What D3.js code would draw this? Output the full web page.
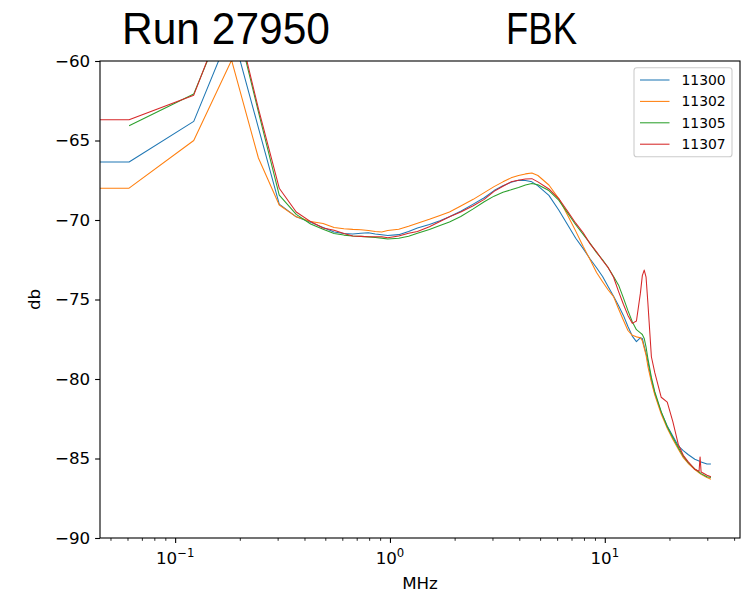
<!DOCTYPE html>
<html><head><meta charset="utf-8">
<script src="https://cdn.jsdelivr.net/npm/d3@7"></script>
<style>body{margin:0;background:#fff}svg{display:block}</style>
</head><body><script>
// ---- data ----
const binWidthMHz = 0.0610352;             // FFT bin width (MHz)
const bins = [0,1,2,3,4,5,6,7,8,9,10,11,12,13,14,15,16,18,20,22,25,28,31,35,40,45,50,
  55,60,65,70,75,80,90,100,110,120,130,140,150,160,170,180,190,200,210,220,230,240,
  245,250,255,260,270,280,300,320,340,360,380,400,430,450,455,460,490,511];
const seriesNames = ["11300","11302","11305","11307"];
const s11300 = [-66.35,-66.35,-63.8,-58.0,-64.2,-69.0,-69.8,-70.15,-70.47,-70.75,-70.85,-70.88,-70.83,-70.8,-70.88,-70.93,-70.98,
  -70.92,-70.72,-70.5,-70.28,-70.05,-69.8,-69.45,-69.0,-68.6,-68.15,
  -67.85,-67.63,-67.5,-67.52,-67.6,-67.85,-68.45,-69.37,
  -70.3,-71.15,-71.8,-72.45,-73.0,-73.55,-74.2,-74.8,-75.4,-76.0,-76.7,-77.3,-77.65,-77.4,
  -77.45,-77.95,-78.4,-78.9,-80.05,-80.9,
  -82.1,-82.95,-83.6,-84.2,-84.5,-84.75,
  -85.05,-85.15,-85.2,-85.22,-85.35,-85.35];
const s11302 = [-68.0,-68.0,-65.0,-59.95,-66.1,-69.06,-69.8,-70.1,-70.22,-70.47,-70.55,-70.59,-70.61,-70.66,-70.72,-70.75,-70.66,
  -70.58,-70.4,-70.2,-69.96,-69.72,-69.5,-69.12,-68.7,-68.28,-67.9,
  -67.6,-67.35,-67.2,-67.1,-67.05,-67.2,-67.8,-68.65,
  -69.7,-70.7,-71.67,-72.5,-73.3,-73.88,-74.4,-74.82,-75.6,-76.3,-76.95,-77.25,-77.35,-77.4,
  -77.6,-78.05,-78.5,-79.2,-80.2,-81.0,
  -82.2,-83.1,-83.8,-84.4,-84.95,-85.3,
  -85.7,-85.9,-85.95,-86.0,-86.2,-86.3];
const s11305 = [null,-64.07,-62.07,-56.3,-63.2,-68.43,-69.65,-70.25,-70.58,-70.85,-70.95,-71.01,-71.03,-71.06,-71.1,-71.14,-71.2,
  -71.15,-71.02,-70.83,-70.6,-70.35,-70.12,-69.78,-69.3,-68.85,-68.5,
  -68.25,-68.1,-67.95,-67.8,-67.7,-67.78,-68.15,-68.75,
  -69.55,-70.3,-70.9,-71.47,-72.05,-72.5,-73.0,-73.55,-74.1,-74.9,-75.7,-76.4,-76.9,-77.1,
  -77.2,-77.45,-78.0,-78.7,-79.9,-80.8,
  -82.05,-83.0,-83.7,-84.3,-84.85,-85.25,
  -85.65,-85.85,-85.9,-85.95,-86.15,-86.2];
const s11307 = [-63.7,-63.7,-62.15,-56.0,-63.0,-68.0,-69.5,-70.1,-70.5,-70.65,-70.85,-71.0,-71.03,-71.05,-71.05,-71.05,-71.12,
  -71.0,-70.83,-70.72,-70.42,-70.1,-69.8,-69.5,-69.1,-68.7,-68.2,
  -67.88,-67.6,-67.5,-67.42,-67.4,-67.6,-68.05,-68.65,
  -69.45,-70.2,-70.8,-71.5,-72.0,-72.55,-73.0,-73.6,-74.5,-75.3,-76.0,-76.5,-76.35,-74.6,
  -73.5,-73.15,-73.6,-75.2,-78.6,-79.6,
  -81.15,-81.45,-82.7,-84.1,-84.8,-85.2,
  -85.68,-85.8,-84.9,-85.85,-86.05,-86.15];
const seriesValues = [s11300, s11302, s11305, s11307];
const colors = ["#1f77b4","#ff7f0e","#2ca02c","#d62728"];
const xMajorTicks = [0.1, 1, 10];
const xMajorExp = ["\u22121", "0", "1"];
const xMinorTicks = [0.05,0.06,0.07,0.08,0.09,0.2,0.3,0.4,0.5,0.6,0.7,0.8,0.9,2,3,4,5,6,7,8,9,20,30,40];
const yTicks = [-90,-85,-80,-75,-70,-65,-60];
const xDomain = [0.04469, 42.6];
const yDomain = [-90, -60];

// ---- layout ----
const W = 748, H = 592;
const L = 100, R = 740, T = 61, B = 538;
const svg = d3.select("body").append("svg").attr("width", W).attr("height", H);
const x = d3.scaleLog().domain(xDomain).range([L, R]);
const y = d3.scaleLinear().domain(yDomain).range([B, T]);

svg.append("defs").append("clipPath").attr("id","clip")
  .append("rect").attr("x",L).attr("y",T).attr("width",R-L).attr("height",B-T);

// lines
const line = d3.line()
  .defined(d => d.v !== null)
  .x(d => d.f > 0 ? x(d.f) : x.range()[0])
  .y(d => y(d.v));
const gLines = svg.append("g").attr("clip-path","url(#clip)");
seriesValues.forEach((vals, k) => {
  const pts = bins.map((b, i) => ({f: b * binWidthMHz, v: vals[i]}));
  gLines.append("path").datum(pts)
    .attr("d", line).attr("fill","none")
    .attr("stroke", colors[k]).attr("stroke-width", 1.05)
    .attr("stroke-linejoin","round");
});

// axes
const tickFont = "DejaVu Sans, sans-serif";
const gx = svg.append("g").attr("transform", `translate(0,${B})`)
  .call(d3.axisBottom(x).tickValues(xMajorTicks).tickSize(4.9).tickPadding(4.9).tickFormat(""));
gx.selectAll(".tick line").attr("stroke-width", 1.1);
gx.select(".domain").remove();
const gxm = svg.append("g").attr("transform", `translate(0,${B})`)
  .call(d3.axisBottom(x).tickValues(xMinorTicks).tickSize(2.8).tickFormat(""));
gxm.selectAll(".tick line").attr("stroke-width", 0.85);
gxm.select(".domain").remove();

xMajorTicks.forEach((t, i) => {
  const tx = svg.append("text").attr("x", x(t)).attr("y", 564)
    .attr("text-anchor","middle").attr("font-family", tickFont).attr("font-size", 16.7).attr("fill","#000");
  tx.append("tspan").text("10");
  tx.append("tspan").attr("dy", -7).attr("font-size", 11.7).text(xMajorExp[i]);
});

const gy = svg.append("g").attr("transform", `translate(${L},0)`)
  .call(d3.axisLeft(y).tickValues(yTicks).tickSize(4.9).tickPadding(4.9)
    .tickFormat(d => d3.format("d")(d).replace("-", "\u2212")));
gy.select(".domain").remove();
gy.selectAll(".tick line").attr("stroke-width", 1.1);
gy.selectAll(".tick text").attr("font-family", tickFont).attr("font-size", 16.7).attr("fill","#000");

// spines
svg.append("rect").attr("x",L).attr("y",T).attr("width",R-L).attr("height",B-T)
  .attr("fill","none").attr("stroke","#000").attr("stroke-width",1.1);

// axis labels
svg.append("text").attr("x",(L+R)/2).attr("y",589).attr("text-anchor","middle")
  .attr("font-family",tickFont).attr("font-size",16.7).text("MHz");
svg.append("text").attr("transform",`translate(40,${(T+B)/2}) rotate(-90)`).attr("text-anchor","middle")
  .attr("font-family",tickFont).attr("font-size",16.7).text("db");

// titles
const titleFont = "Liberation Sans Narrow, Liberation Sans, sans-serif";
svg.append("text").attr("x",122).attr("y",44).attr("font-family",titleFont).attr("font-size",45)
  .attr("textLength",208).attr("lengthAdjust","spacingAndGlyphs").text("Run 27950");
svg.append("text").attr("x",506).attr("y",44).attr("font-family",titleFont).attr("font-size",45)
  .attr("textLength",71).attr("lengthAdjust","spacingAndGlyphs").text("FBK");

// legend
const lg = svg.append("g");
lg.append("rect").attr("x",634).attr("y",67.7).attr("width",98).attr("height",89).attr("rx",2.8)
  .attr("fill","#fff").attr("fill-opacity",0.8).attr("stroke","#cccccc").attr("stroke-width",1.1);
seriesNames.forEach((n, i) => {
  const yy = 80 + i * 21.4;
  lg.append("line").attr("x1",640).attr("x2",669.5).attr("y1",yy).attr("y2",yy)
    .attr("stroke",colors[i]).attr("stroke-width",1.05);
  lg.append("text").attr("x",681.5).attr("y",yy).attr("dy","0.36em")
    .attr("font-family",tickFont).attr("font-size",13.9).text(n);
});
</script></body></html>
